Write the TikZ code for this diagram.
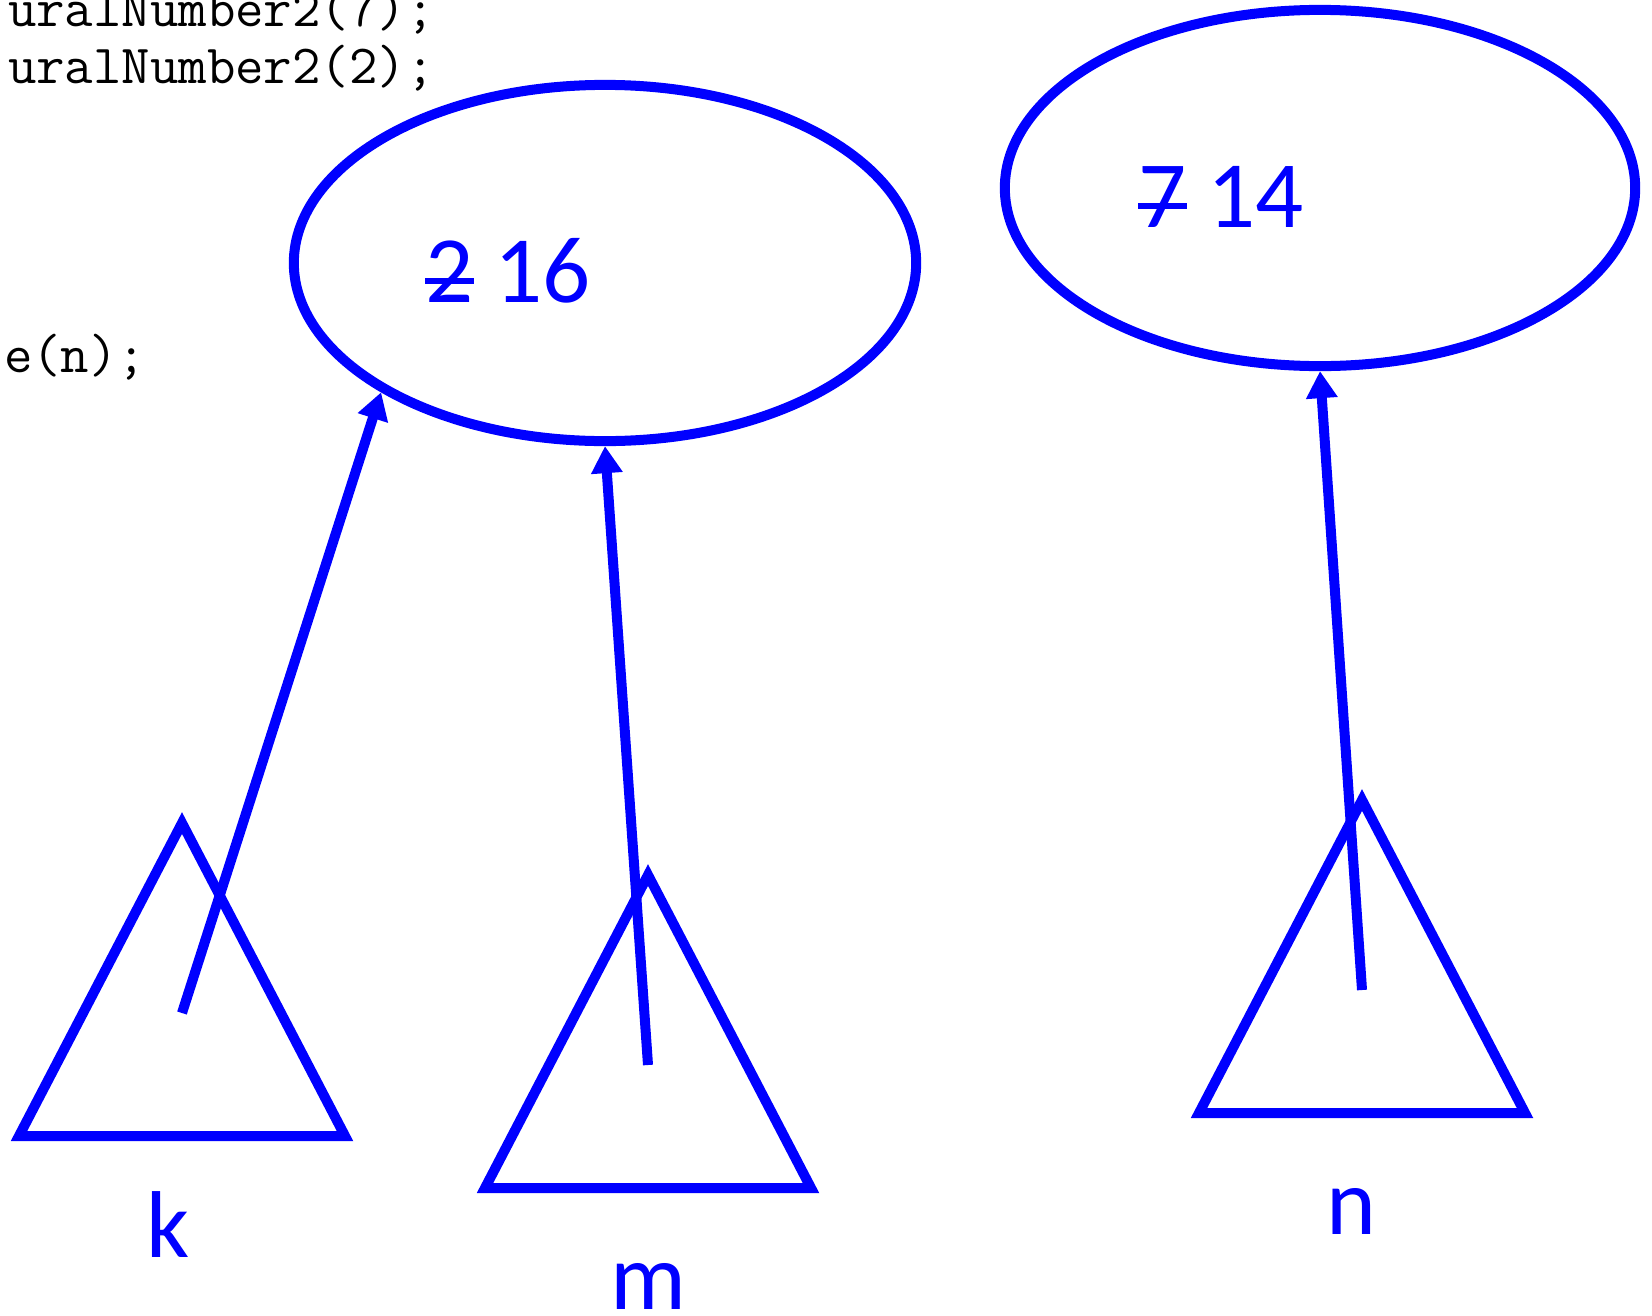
\documentclass[tikz,border=0pt]{standalone}
\usepackage{fontspec}
\setmainfont{Carlito}
\usetikzlibrary{arrows.meta, positioning, shapes.geometric}
\definecolor{cblue}{HTML}{0000FF}
\newcommand{\crossout}[1]{\makebox[0pt][l]{\rule[0.19em]{0.52em}{0.06em}}#1}
\tikzset{
  every picture/.style={line width=0.1cm, x=0.01cm, y=-0.01cm},
  obj/.style={ellipse, draw=cblue, minimum width=#1, minimum height=3.56cm, inner sep=0pt},
  obj/.default=6.22cm,
  tri/.style={draw=cblue, line join=miter},
  val/.style={text=cblue, font=\fontsize{27}{32}\selectfont, anchor=base, inner sep=0pt},
  lab/.style={text=cblue, font=\fontsize{27}{32}\selectfont, anchor=base, inner sep=0pt},
  code/.style={font=\ttfamily\fontsize{15.7}{18}\selectfont, anchor=base west, inner sep=0pt},
  ref/.style={-{Triangle[length=0.27cm, width=0.3cm]}, draw=cblue},
}
\begin{document}
\begin{tikzpicture}
  \useasboundingbox (0,0) rectangle (1652,1315);
  % code lines
  \node[code] (c1) at (3, 27) {uralNumber2(7);};
  \node[code] (c2) at (3, 83) {uralNumber2(2);};
  \node[code] (c3) at (-1, 372) {e(n);};
  % objects
  \node[obj] (obj1) at (605, 263) {};
  \node[obj=6.3cm] (obj2) at (1320, 188) {};
  \node[val] (v1) at (508, 302) {\crossout{2} 16};
  \node[val] (v2) at (1221, 227) {\crossout{7} 14};
  % references
  \foreach \n/\x/\y/\lx in {k/182/823/168, m/648/875/648, n/1362/800/1351} {
    \draw[tri] (\x, \y) -- ++(163, 313) -- ++(-326, 0) -- cycle;
    \coordinate (\n) at (\x, \y+190);
    \node[lab] (l\n) at (\lx, \y+434) {\n};
  }
  \draw[ref] (k) -- (obj1.210);
  \draw[ref] (m) -- (obj1.270);
  \draw[ref] (n) -- (obj2.270);
\end{tikzpicture}
\end{document}
